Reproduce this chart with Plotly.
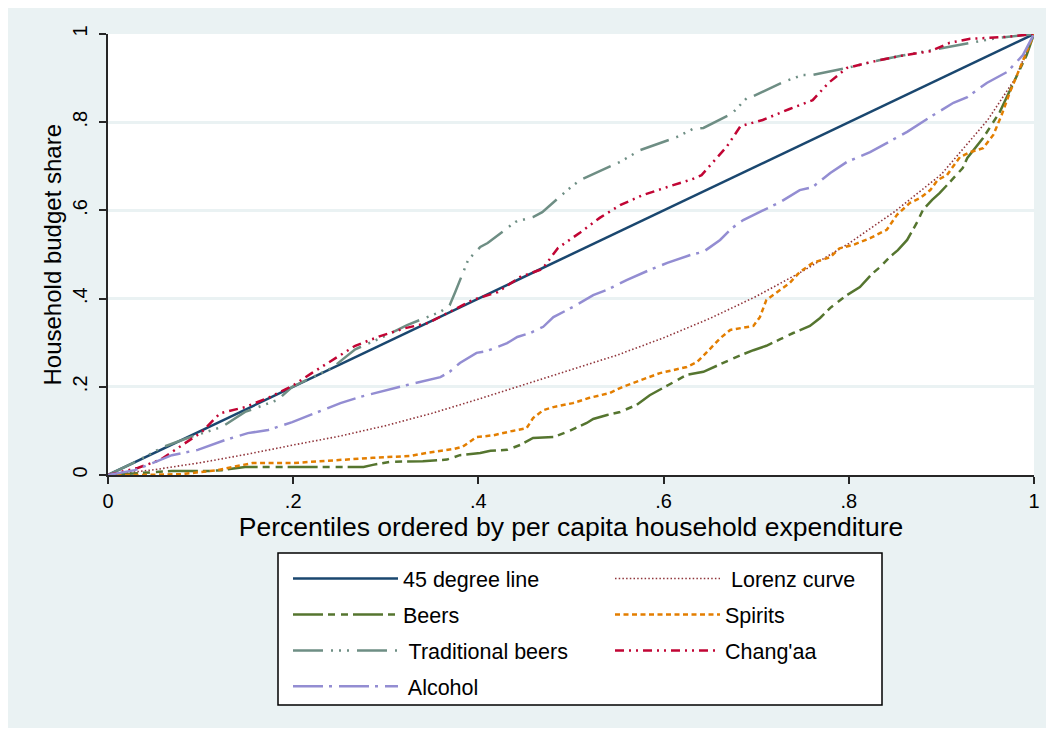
import plotly.graph_objects as go

# Percentile positions (x) and cumulative budget shares (y) for each concentration curve
x_diag = [0, 1]
y_diag = [0, 1]

x_lorenz = [0, .05, .1, .15, .2, .25, .3, .35, .4, .45, .5, .55, .6, .65, .7, .75, .8, .85, .9, .95, .98, 1]
y_lorenz = [0, .012, .028, .047, .068, .088, .112, .14, .172, .205, .238, .272, .311, .355, .405, .462, .525, .598, .682, .805, .9, 1]

x_beers = [0, .048, .069, .108, .123, .148, .184, .213, .267, .276, .286, .305, .34, .366, .38, .402, .413, .431,
           .445, .459, .481, .496, .517, .524, .539, .553, .571, .585, .599, .614, .625, .643, .664, .679, .697,
           .711, .726, .74, .758, .769, .78, .787, .798, .812, .825, .834, .844, .853, .863, .874, .88, .89, .898,
           .913, .923, .928, .945, .963, .977, .992, 1]
y_beers = [0, .007, .009, .009, .011, .018, .018, .018, .018, .018, .023, .03, .031, .035, .045, .05, .055, .057,
           .068, .084, .086, .098, .118, .127, .136, .143, .159, .181, .197, .215, .227, .234, .254, .268, .283,
           .293, .308, .322, .338, .356, .379, .39, .408, .426, .456, .472, .494, .51, .533, .574, .601, .624, .639,
           .673, .696, .719, .764, .823, .884, .952, 1]

x_spirits = [0, .03, .08, .105, .118, .134, .156, .199, .248, .286, .326, .344, .373, .383, .398, .416, .437, .452,
             .459, .47, .481, .502, .52, .542, .556, .578, .596, .625, .636, .647, .661, .672, .697, .704, .711,
             .726, .736, .747, .761, .78, .79, .805, .823, .841, .852, .866, .877, .888, .896, .906, .92, .931,
             .945, .956, .965, .974, .985, 1]
y_spirits = [0, 0, .002, .007, .011, .018, .027, .027, .034, .039, .043, .05, .059, .064, .086, .09, .1, .106,
             .129, .147, .154, .163, .175, .186, .2, .217, .231, .245, .256, .279, .31, .329, .338, .358, .397,
             .42, .435, .46, .481, .494, .514, .522, .537, .556, .59, .617, .628, .646, .669, .68, .721, .732,
             .741, .771, .816, .868, .923, 1]

x_trad = [0, .03, .059, .086, .123, .148, .183, .199, .242, .267, .297, .323, .359, .369, .375, .389, .402, .41,
          .44, .459, .469, .496, .51, .553, .575, .614, .632, .643, .674, .69, .697, .729, .75, .761, .798, .815,
          .834, .855, .891, .929, .96, 1]
y_trad = [0, .03, .063, .084, .109, .143, .17, .2, .243, .285, .313, .34, .37, .385, .415, .488, .517, .526,
          .574, .585, .596, .646, .669, .71, .737, .766, .785, .787, .82, .855, .859, .891, .907, .907, .923, .932,
          .941, .95, .964, .98, .991, 1]

x_changaa = [0, .032, .056, .101, .121, .148, .173, .199, .22, .245, .267, .294, .321, .346, .369, .394, .421, .445,
             .469, .486, .51, .531, .553, .578, .604, .631, .641, .652, .668, .683, .707, .736, .761, .778, .798,
             .823, .855, .888, .909, .931, .967, 1]
y_changaa = [0, .016, .034, .097, .14, .154, .175, .202, .231, .265, .293, .315, .333, .345, .37, .397, .415, .449,
             .467, .515, .55, .583, .612, .635, .653, .671, .68, .707, .744, .791, .805, .83, .85, .889, .923,
             .936, .95, .961, .98, .989, .993, 1]

x_alcohol = [0, .029, .048, .069, .097, .126, .151, .173, .199, .227, .251, .272, .301, .323, .359, .369, .38, .398,
             .409, .431, .442, .456, .47, .481, .502, .524, .539, .56, .585, .604, .629, .643, .661, .674, .686,
             .701, .726, .747, .761, .78, .798, .823, .863, .888, .913, .928, .949, .971, .988, 1]
y_alcohol = [0, .011, .027, .045, .057, .079, .095, .102, .12, .143, .163, .177, .193, .204, .222, .234, .254, .277,
             .281, .299, .313, .322, .336, .358, .381, .408, .42, .442, .465, .481, .499, .506, .533, .56, .578,
             .594, .619, .646, .653, .685, .71, .732, .778, .812, .844, .857, .889, .914, .952, 1]

tick_vals = [0, .2, .4, .6, .8, 1]
tick_text = ["0", ".2", ".4", ".6", ".8", "1"]

FONT = "Liberation Sans, Arial, sans-serif"
BG = "#EAF2F3"

# plot-area geometry in pixels (used to place paper-referenced items)
L, T, W, H = 108, 34, 926, 441


def px_x(px):
    return (px - L) / W


def px_y(py):
    return (T + H - py) / H


# name, x, y, color, width, dash, legend column
series = [
    ("45 degree line", x_diag, y_diag, "#1a476f", 2.5, "solid", "legend"),
    (" Lorenz curve", x_lorenz, y_lorenz, "#90353b", 1.6, "1.5px,2.2px", "legend2"),
    ("Beers", x_beers, y_beers, "#55752f", 2.5, "30px,5px,7px,6px,7px,5px", "legend"),
    ("Spirits", x_spirits, y_spirits, "#e37e00", 2.5, "5px,3.5px", "legend2"),
    (" Traditional beers", x_trad, y_trad, "#6e8e84", 2.5, "30px,8px,2px,6px,2px,6px,2px,8px", "legend"),
    ("Chang'aa", x_changaa, y_changaa, "#c10534", 2.5, "9px,5px,2px,5px,2px,5px", "legend2"),
    (" Alcohol", x_alcohol, y_alcohol, "#938dd2", 2.5, "30px,6px,3px,7px", "legend"),
]

fig = go.Figure()
for i, (name, xs, ys, color, width, dash, leg) in enumerate(series):
    fig.add_trace(go.Scatter(
        x=xs, y=ys, mode="lines", name=name,
        line=dict(color=color, width=width, dash=dash),
        legend=leg, legendgroup=f"g{i}",
    ))

legend_common = dict(
    orientation="v", xanchor="left", yanchor="top", yref="paper", xref="paper",
    bgcolor="rgba(0,0,0,0)", borderwidth=0, itemwidth=105,
    font=dict(family=FONT, size=21.5, color="#000000"),
    tracegroupgap=5, traceorder="grouped",
)

white_strip = dict(type="rect", xref="paper", yref="paper", layer="below",
                   line=dict(width=0), fillcolor="#ffffff")

fig.update_layout(
    width=1054, height=734,
    margin=dict(l=L, r=1054 - L - W, t=T, b=734 - T - H, autoexpand=False),
    paper_bgcolor=BG, plot_bgcolor="#ffffff",
    font=dict(family=FONT, color="#000000"),
    showlegend=True,
    legend=dict(x=px_x(288), y=px_y(558), **legend_common),
    legend2=dict(x=px_x(610), y=px_y(558), **legend_common),
    xaxis=dict(
        range=[0, 1], tickvals=tick_vals, ticktext=tick_text,
        showgrid=False, zeroline=False,
        showline=True, linecolor="#262626", linewidth=2,
        ticks="outside", ticklen=7, tickwidth=1.5, tickcolor="#262626",
        tickfont=dict(family=FONT, size=20, color="#000000"),
        title=dict(text="Percentiles ordered by per capita household expenditure",
                   font=dict(family=FONT, size=26.5, color="#000000"), standoff=3),
    ),
    yaxis=dict(
        range=[0, 1], tickvals=tick_vals, ticktext=tick_text, tickangle=-90,
        showgrid=True, gridcolor=BG, gridwidth=2.5, zeroline=False,
        showline=True, linecolor="#262626", linewidth=2,
        ticks="outside", ticklen=7, tickwidth=1.5, tickcolor="#262626",
        ticklabelstandoff=4,
        tickfont=dict(family=FONT, size=20, color="#000000"),
    ),
    annotations=[
        dict(text="Household budget share", textangle=-90, showarrow=False,
             xref="paper", yref="paper", x=px_x(52), y=0.5, xanchor="center", yanchor="middle",
             font=dict(family=FONT, size=24, color="#000000")),
    ],
    shapes=[
        # white page border around the tinted graph region
        dict(x0=px_x(0), x1=px_x(1054), y0=px_y(0), y1=px_y(8), **white_strip),
        dict(x0=px_x(0), x1=px_x(1054), y0=px_y(734), y1=px_y(728), **white_strip),
        dict(x0=px_x(0), x1=px_x(8), y0=px_y(734), y1=px_y(0), **white_strip),
        dict(x0=px_x(1046), x1=px_x(1054), y0=px_y(734), y1=px_y(0), **white_strip),
        # legend frame
        dict(type="rect", xref="paper", yref="paper", layer="below",
             line=dict(width=1.5, color="#000000"), fillcolor="#ffffff",
             x0=px_x(278), x1=px_x(882), y0=px_y(705), y1=px_y(553)),
    ],
)

fig.write_html("out.html")
